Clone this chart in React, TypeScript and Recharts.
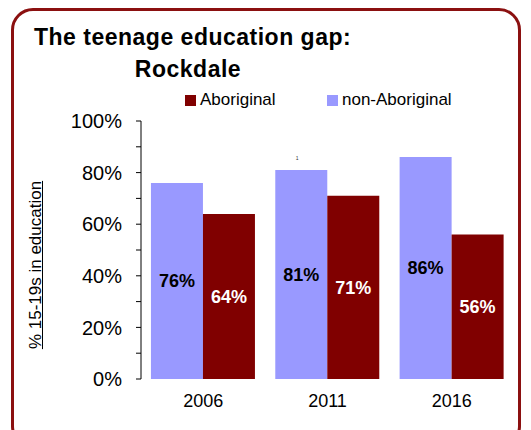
import React from "react";
import { BarChart, Bar, XAxis, YAxis, LabelList } from "recharts";

const years = ["2006", "2011", "2016"];
const nonAboriginal = [76, 81, 86];
const aboriginal = [64, 71, 56];
const yTicks = [0, 10, 20, 30, 40, 50, 60, 70, 80, 90, 100];
const seriesNames = ["Aboriginal", "non-Aboriginal"];
const colors: Record<string, string> = { Aboriginal: "#800000", "non-Aboriginal": "#9999ff" };

const data = years.map((y, i) => ({ year: y, non: nonAboriginal[i], abo: aboriginal[i] }));

const FONT = "'Liberation Sans', Arial, sans-serif";

const TinyMark = (props: any) => {
  const { x, y, width, index } = props;
  if (index !== 1) return null;
  return (
    <text x={x + width * 0.42} y={y - 10} fontSize={5} fill="#333" fontFamily={FONT} textAnchor="middle">
      1
    </text>
  );
};

export default function App() {
  return (
    <div style={{ position: "fixed", left: 0, top: 0, width: 531, height: 430, background: "#fff", overflow: "hidden", fontFamily: FONT }}>
      <div
        style={{
          position: "absolute",
          left: 11,
          top: 8,
          width: 510,
          height: 440,
          border: "3px solid #8b1010",
          borderRadius: 22,
          boxSizing: "border-box",
        }}
      />
      <div style={{ position: "absolute", left: 34, top: 26, fontSize: 23, lineHeight: "23px", letterSpacing: 0.5, fontWeight: "bold", color: "#000", whiteSpace: "nowrap" }}>
        The teenage education gap:
      </div>
      <div style={{ position: "absolute", left: 88, width: 200, textAlign: "center", top: 58, fontSize: 23, lineHeight: "23px", letterSpacing: 0.5, fontWeight: "bold", color: "#000" }}>
        Rockdale
      </div>
      <div style={{ position: "absolute", left: 185, top: 90, display: "flex", alignItems: "center", fontSize: 17, whiteSpace: "nowrap" }}>
        <span style={{ width: 11, height: 11, background: colors[seriesNames[0]], display: "inline-block", marginRight: 4 }} />
        <span>{seriesNames[0]}</span>
      </div>
      <div style={{ position: "absolute", left: 327, top: 90, display: "flex", alignItems: "center", fontSize: 17, whiteSpace: "nowrap" }}>
        <span style={{ width: 11, height: 11, background: colors[seriesNames[1]], display: "inline-block", marginRight: 4 }} />
        <span>{seriesNames[1]}</span>
      </div>
      <div
        style={{
          position: "absolute",
          left: 36,
          top: 265,
          transform: "translate(-50%, -50%) rotate(-90deg)",
          fontSize: 17,
          textDecoration: "underline",
          whiteSpace: "nowrap",
        }}
      >
        % 15-19s in education
      </div>
      <div style={{ position: "absolute", left: 0, top: 0 }}>
        <BarChart
          width={531}
          height={430}
          data={data}
          margin={{ top: 121, right: 17, left: 0, bottom: 21 }}
          barCategoryGap="8%"
          barGap={0}
        >
          <XAxis
            dataKey="year"
            axisLine={false}
            tickLine={false}
            tick={{ fill: "#000", fontSize: 18, fontFamily: FONT }}
            tickMargin={9}
            height={30}
          />
          <YAxis
            width={141}
            domain={[0, 100]}
            ticks={yTicks}
            interval={0}
            tickFormatter={(v: number) => (v % 20 === 0 ? `${v}%` : "")}
            axisLine={{ stroke: "#000" }}
            tickLine={{ stroke: "#000" }}
            tickSize={5}
            tickMargin={14}
            tick={{ fill: "#000", fontSize: 20, fontFamily: FONT }}
          />
          <Bar dataKey="non" name={seriesNames[1]} fill={colors["non-Aboriginal"]} isAnimationActive={false}>
            <LabelList
              dataKey="non"
              position="center"
              formatter={(v: number) => `${v}%`}
              style={{ fill: "#000", fontWeight: "bold", fontSize: 18, fontFamily: FONT }}
            />
            <LabelList dataKey="non" content={TinyMark} />
          </Bar>
          <Bar dataKey="abo" name={seriesNames[0]} fill={colors["Aboriginal"]} isAnimationActive={false}>
            <LabelList
              dataKey="abo"
              position="center"
              formatter={(v: number) => `${v}%`}
              style={{ fill: "#fff", fontWeight: "bold", fontSize: 18, fontFamily: FONT }}
            />
          </Bar>
        </BarChart>
      </div>
    </div>
  );
}
